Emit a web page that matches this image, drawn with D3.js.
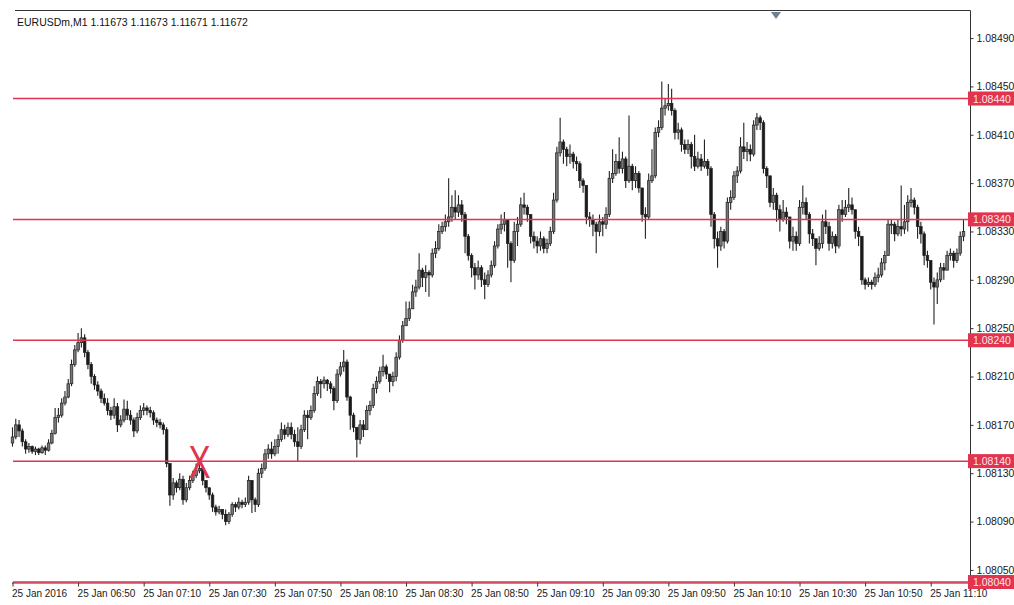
<!DOCTYPE html>
<html>
<head>
<meta charset="utf-8">
<script src="https://cdn.jsdelivr.net/npm/d3@7/dist/d3.min.js"></script>
<style>
  html, body { margin: 0; padding: 0; background: #fff; }
  svg { display: block; }
</style>
</head>
<body>
<svg id="chart" width="1014" height="605"></svg>
<script>
// ---------- data ----------
const title = "EURUSDm,M1  1.11673 1.11673 1.11671 1.11672";
const firstOpen = 1.08155;
const closes = [
1.08160,1.08170,1.08165,1.08156,1.08150,1.08152,1.08148,1.08150,1.08147,1.08151,
1.08149,1.08155,1.08163,1.08176,1.08178,1.08188,1.08193,1.08204,1.08220,1.08232,
1.08238,1.08242,1.08230,1.08220,1.08210,1.08203,1.08198,1.08192,1.08188,1.08182,
1.08178,1.08185,1.08170,1.08174,1.08183,1.08178,1.08174,1.08165,1.08176,1.08182,
1.08184,1.08182,1.08180,1.08174,1.08172,1.08170,1.08166,1.08138,1.08112,1.08122,
1.08118,1.08125,1.08108,1.08118,1.08124,1.08128,1.08132,1.08134,1.08124,1.08118,
1.08112,1.08102,1.08098,1.08100,1.08096,1.08090,1.08096,1.08104,1.08102,1.08106,
1.08104,1.08106,1.08124,1.08108,1.08104,1.08130,1.08134,1.08146,1.08150,1.08146,
1.08152,1.08158,1.08166,1.08162,1.08168,1.08162,1.08156,1.08152,1.08166,1.08178,
1.08176,1.08182,1.08196,1.08206,1.08204,1.08207,1.08204,1.08200,1.08190,1.08212,
1.08218,1.08222,1.08193,1.08178,1.08168,1.08158,1.08170,1.08166,1.08182,1.08186,
1.08200,1.08206,1.08214,1.08218,1.08212,1.08206,1.08210,1.08226,1.08240,1.08252,
1.08258,1.08266,1.08280,1.08284,1.08298,1.08292,1.08296,1.08294,1.08312,1.08316,
1.08330,1.08334,1.08338,1.08342,1.08350,1.08346,1.08352,1.08344,1.08326,1.08310,
1.08300,1.08294,1.08300,1.08290,1.08286,1.08294,1.08302,1.08318,1.08332,1.08336,
1.08340,1.08320,1.08306,1.08330,1.08336,1.08352,1.08350,1.08344,1.08326,1.08322,
1.08318,1.08324,1.08316,1.08320,1.08330,1.08356,1.08395,1.08404,1.08398,1.08392,
1.08394,1.08388,1.08386,1.08372,1.08368,1.08342,1.08340,1.08336,1.08330,1.08338,
1.08336,1.08344,1.08374,1.08378,1.08388,1.08382,1.08390,1.08372,1.08384,1.08372,
1.08378,1.08366,1.08344,1.08342,1.08372,1.08376,1.08412,1.08416,1.08432,1.08434,
1.08436,1.08430,1.08412,1.08414,1.08402,1.08398,1.08402,1.08392,1.08384,1.08390,
1.08384,1.08388,1.08382,1.08344,1.08324,1.08318,1.08330,1.08322,1.08354,1.08358,
1.08376,1.08380,1.08400,1.08396,1.08398,1.08394,1.08418,1.08424,1.08420,1.08382,
1.08376,1.08354,1.08360,1.08348,1.08340,1.08346,1.08342,1.08322,1.08326,1.08320,
1.08350,1.08354,1.08344,1.08328,1.08324,1.08316,1.08320,1.08338,1.08334,1.08320,
1.08326,1.08318,1.08348,1.08344,1.08350,1.08352,1.08348,1.08330,1.08326,1.08290,
1.08286,1.08288,1.08286,1.08292,1.08294,1.08304,1.08310,1.08336,1.08336,1.08328,
1.08334,1.08332,1.08338,1.08354,1.08356,1.08350,1.08334,1.08328,1.08310,1.08306,
1.08288,1.08284,1.08290,1.08300,1.08298,1.08310,1.08312,1.08306,1.08312,1.08326,
1.08330
];
const highs = [
1.08168,1.08175,1.08174,1.08167,1.08158,1.08155,1.08153,1.08152,1.08151,1.08153,
1.08153,1.08158,1.08166,1.08184,1.08184,1.08192,1.08198,1.08208,1.08224,1.08236,
1.08246,1.08250,1.08245,1.08232,1.08222,1.08212,1.08206,1.08200,1.08196,1.08192,
1.08185,1.08192,1.08188,1.08178,1.08191,1.08190,1.08182,1.08176,1.08180,1.08186,
1.08188,1.08186,1.08185,1.08182,1.08176,1.08175,1.08172,1.08168,1.08138,1.08126,
1.08124,1.08130,1.08128,1.08122,1.08128,1.08132,1.08138,1.08140,1.08134,1.08124,
1.08118,1.08114,1.08104,1.08103,1.08100,1.08100,1.08098,1.08106,1.08106,1.08110,
1.08108,1.08110,1.08128,1.08124,1.08110,1.08134,1.08138,1.08150,1.08154,1.08156,
1.08158,1.08162,1.08172,1.08170,1.08172,1.08172,1.08166,1.08168,1.08170,1.08182,
1.08182,1.08186,1.08202,1.08210,1.08208,1.08210,1.08208,1.08206,1.08202,1.08216,
1.08222,1.08232,1.08224,1.08194,1.08180,1.08168,1.08174,1.08174,1.08186,1.08190,
1.08204,1.08210,1.08218,1.08228,1.08220,1.08212,1.08214,1.08230,1.08244,1.08256,
1.08272,1.08272,1.08286,1.08290,1.08312,1.08300,1.08302,1.08298,1.08316,1.08322,
1.08336,1.08338,1.08344,1.08374,1.08360,1.08364,1.08360,1.08356,1.08346,1.08328,
1.08312,1.08304,1.08306,1.08302,1.08296,1.08298,1.08306,1.08322,1.08336,1.08344,
1.08346,1.08340,1.08322,1.08338,1.08342,1.08358,1.08362,1.08352,1.08344,1.08330,
1.08326,1.08330,1.08326,1.08324,1.08334,1.08362,1.08400,1.08424,1.08406,1.08400,
1.08402,1.08396,1.08392,1.08388,1.08374,1.08368,1.08346,1.08344,1.08338,1.08344,
1.08342,1.08350,1.08380,1.08398,1.08394,1.08408,1.08396,1.08392,1.08426,1.08386,
1.08384,1.08380,1.08366,1.08350,1.08378,1.08398,1.08416,1.08422,1.08454,1.08440,
1.08452,1.08448,1.08432,1.08420,1.08416,1.08406,1.08406,1.08404,1.08410,1.08396,
1.08394,1.08406,1.08390,1.08384,1.08346,1.08330,1.08334,1.08332,1.08358,1.08364,
1.08380,1.08384,1.08408,1.08420,1.08404,1.08402,1.08422,1.08428,1.08426,1.08422,
1.08384,1.08376,1.08366,1.08362,1.08352,1.08356,1.08350,1.08342,1.08334,1.08330,
1.08356,1.08368,1.08358,1.08346,1.08332,1.08324,1.08326,1.08344,1.08348,1.08338,
1.08330,1.08328,1.08352,1.08356,1.08356,1.08366,1.08358,1.08348,1.08334,1.08326,
1.08292,1.08292,1.08290,1.08296,1.08300,1.08308,1.08314,1.08340,1.08340,1.08338,
1.08340,1.08368,1.08352,1.08360,1.08366,1.08358,1.08352,1.08338,1.08330,1.08314,
1.08306,1.08292,1.08296,1.08304,1.08304,1.08314,1.08316,1.08314,1.08316,1.08330,
1.08340
];
const lows = [
1.08152,1.08158,1.08160,1.08152,1.08146,1.08147,1.08146,1.08145,1.08145,1.08146,
1.08145,1.08148,1.08154,1.08162,1.08172,1.08176,1.08186,1.08192,1.08202,1.08218,
1.08230,1.08234,1.08226,1.08216,1.08204,1.08199,1.08194,1.08188,1.08186,1.08178,
1.08174,1.08175,1.08164,1.08168,1.08172,1.08174,1.08170,1.08160,1.08163,1.08174,
1.08178,1.08178,1.08176,1.08170,1.08168,1.08167,1.08162,1.08135,1.08103,1.08108,
1.08114,1.08116,1.08104,1.08106,1.08116,1.08122,1.08126,1.08130,1.08120,1.08114,
1.08108,1.08098,1.08095,1.08096,1.08092,1.08087,1.08088,1.08094,1.08098,1.08100,
1.08101,1.08102,1.08104,1.08097,1.08098,1.08102,1.08126,1.08132,1.08142,1.08142,
1.08144,1.08146,1.08156,1.08158,1.08160,1.08158,1.08152,1.08140,1.08150,1.08164,
1.08158,1.08174,1.08180,1.08194,1.08192,1.08200,1.08198,1.08196,1.08182,1.08188,
1.08210,1.08214,1.08190,1.08166,1.08164,1.08143,1.08154,1.08160,1.08166,1.08178,
1.08184,1.08196,1.08204,1.08210,1.08208,1.08197,1.08202,1.08206,1.08224,1.08238,
1.08252,1.08256,1.08266,1.08276,1.08282,1.08284,1.08280,1.08276,1.08292,1.08308,
1.08314,1.08328,1.08330,1.08334,1.08338,1.08340,1.08342,1.08338,1.08312,1.08306,
1.08292,1.08282,1.08290,1.08284,1.08274,1.08284,1.08292,1.08300,1.08316,1.08328,
1.08330,1.08300,1.08288,1.08304,1.08318,1.08334,1.08344,1.08338,1.08320,1.08316,
1.08312,1.08314,1.08312,1.08312,1.08318,1.08328,1.08354,1.08392,1.08386,1.08384,
1.08386,1.08382,1.08380,1.08366,1.08362,1.08336,1.08334,1.08326,1.08312,1.08326,
1.08326,1.08332,1.08342,1.08370,1.08376,1.08378,1.08378,1.08366,1.08370,1.08364,
1.08366,1.08362,1.08338,1.08324,1.08340,1.08370,1.08374,1.08408,1.08414,1.08426,
1.08430,1.08426,1.08406,1.08406,1.08396,1.08394,1.08394,1.08382,1.08380,1.08382,
1.08380,1.08382,1.08376,1.08334,1.08316,1.08300,1.08314,1.08316,1.08320,1.08348,
1.08356,1.08370,1.08378,1.08390,1.08388,1.08388,1.08392,1.08414,1.08414,1.08378,
1.08366,1.08350,1.08348,1.08338,1.08330,1.08338,1.08336,1.08316,1.08314,1.08314,
1.08318,1.08344,1.08340,1.08320,1.08318,1.08302,1.08314,1.08316,1.08328,1.08314,
1.08316,1.08312,1.08316,1.08338,1.08342,1.08346,1.08344,1.08324,1.08318,1.08286,
1.08282,1.08284,1.08282,1.08284,1.08288,1.08292,1.08298,1.08310,1.08328,1.08322,
1.08326,1.08326,1.08328,1.08330,1.08350,1.08344,1.08324,1.08320,1.08302,1.08300,
1.08282,1.08253,1.08270,1.08288,1.08290,1.08298,1.08306,1.08300,1.08304,1.08310,
1.08322
];
const levels = [1.08440, 1.08340, 1.08240, 1.08140, 1.08040];
const priceTicks = [1.08490, 1.08450, 1.08410, 1.08370, 1.08330, 1.08290,
                    1.08250, 1.08210, 1.08170, 1.08130, 1.08090, 1.08050];
const timeTickBars = [0, 20, 40, 60, 80, 100, 120, 140, 160, 180, 200, 220, 240, 260, 280];
const timeTickLabels = ["25 Jan 2016", "25 Jan 06:50", "25 Jan 07:10", "25 Jan 07:30",
  "25 Jan 07:50", "25 Jan 08:10", "25 Jan 08:30", "25 Jan 08:50", "25 Jan 09:10",
  "25 Jan 09:30", "25 Jan 09:50", "25 Jan 10:10", "25 Jan 10:30", "25 Jan 10:50", "25 Jan 11:10"];
const markBar = 57, markPrice = 1.08140;

// ---------- build ----------
const candles = closes.map((c, i) => ({
  i, o: i === 0 ? firstOpen : closes[i - 1], h: highs[i], l: lows[i], c
}));

const svg = d3.select("#chart");
const font = "'Liberation Sans', Arial, sans-serif";
const plotRight = 970.5, plotTop = 10.5, plotBottom = 582.5;

const x = d3.scaleLinear().domain([0, closes.length - 1]).range([12.5, 963.5]);
const y = d3.scaleLinear().domain([1.08040, 1.08440]).range([582, 98.5]);

// frame
svg.append("line").attr("x1", 15).attr("x2", plotRight).attr("y1", plotTop).attr("y2", plotTop)
  .attr("stroke", "#333").attr("stroke-width", 1);
svg.append("line").attr("x1", plotRight).attr("x2", plotRight).attr("y1", plotTop).attr("y2", plotBottom)
  .attr("stroke", "#333").attr("stroke-width", 1);

// title
svg.append("text").attr("x", 17).attr("y", 26).text(title)
  .attr("font-family", font).attr("font-size", 10.5).attr("fill", "#111");

// shift marker
svg.append("path").attr("d", "M771,12 L781,12 L776,19 Z").attr("fill", "#6f8090");

// candles
const bw = 2.6;
const cg = svg.append("g");
cg.selectAll("line.wick").data(candles).join("line")
  .attr("x1", d => x(d.i)).attr("x2", d => x(d.i))
  .attr("y1", d => y(d.h)).attr("y2", d => y(d.l))
  .attr("stroke", "#222").attr("stroke-width", 1.1);
cg.selectAll("rect.body").data(candles).join("rect")
  .attr("x", d => x(d.i) - bw / 2)
  .attr("width", bw)
  .attr("y", d => y(Math.max(d.o, d.c)))
  .attr("height", d => Math.max(1, Math.abs(y(d.o) - y(d.c))))
  .attr("fill", d => d.c >= d.o ? "#777" : "#1a1a1a")
  .attr("stroke", "#222").attr("stroke-width", 0.7);

// bottom axis
const xAxis = d3.axisBottom(x).tickValues(timeTickBars).tickSize(4).tickFormat("");
const gx = svg.append("g").attr("transform", `translate(0,${plotBottom})`).call(xAxis);
gx.select(".domain").attr("d", `M12,0.5H${plotRight}`).attr("stroke", "#333");
gx.selectAll(".tick line").attr("stroke", "#333");
svg.append("g").selectAll("text").data(timeTickBars).join("text")
  .attr("x", (d) => x(d) - 0.5).attr("y", 597)
  .text((d, k) => timeTickLabels[k])
  .attr("font-family", font).attr("font-size", 10).attr("fill", "#1a1a1a");

// right axis
const yAxis = d3.axisRight(y).tickValues(priceTicks).tickSize(3).tickFormat(d3.format(".5f"));
const gy = svg.append("g").attr("transform", `translate(${plotRight},0)`).call(yAxis);
gy.select(".domain").remove();
gy.selectAll(".tick line").attr("stroke", "#333");
gy.selectAll(".tick text").attr("x", 6).attr("font-family", font).attr("font-size", 10.5)
  .attr("fill", "#1a1a1a").attr("text-anchor", "start");

// level lines
const red = "#e2334f";
svg.append("g").selectAll("line").data(levels).join("line")
  .attr("x1", 13).attr("x2", plotRight)
  .attr("y1", d => y(d)).attr("y2", d => y(d))
  .attr("stroke", red).attr("stroke-width", 1.5);

// level labels
const lg = svg.append("g").selectAll("g").data(levels).join("g")
  .attr("transform", d => `translate(968,${y(d)})`);
lg.append("rect").attr("x", 0).attr("y", -7).attr("width", 46).attr("height", 14).attr("fill", red);
lg.append("text").attr("x", 5).attr("y", 4).text(d => d3.format(".5f")(d))
  .attr("font-family", font).attr("font-size", 10.5).attr("fill", "#ffe6ea");

// red X annotation
svg.append("g").attr("transform", `translate(${x(markBar)},${y(markPrice)}) scale(0.72,1)`)
  .append("text").attr("x", 0).attr("y", 16.5).attr("text-anchor", "middle")
  .text("X").attr("font-family", font).attr("font-size", 46).attr("fill", red);
</script>
</body>
</html>
